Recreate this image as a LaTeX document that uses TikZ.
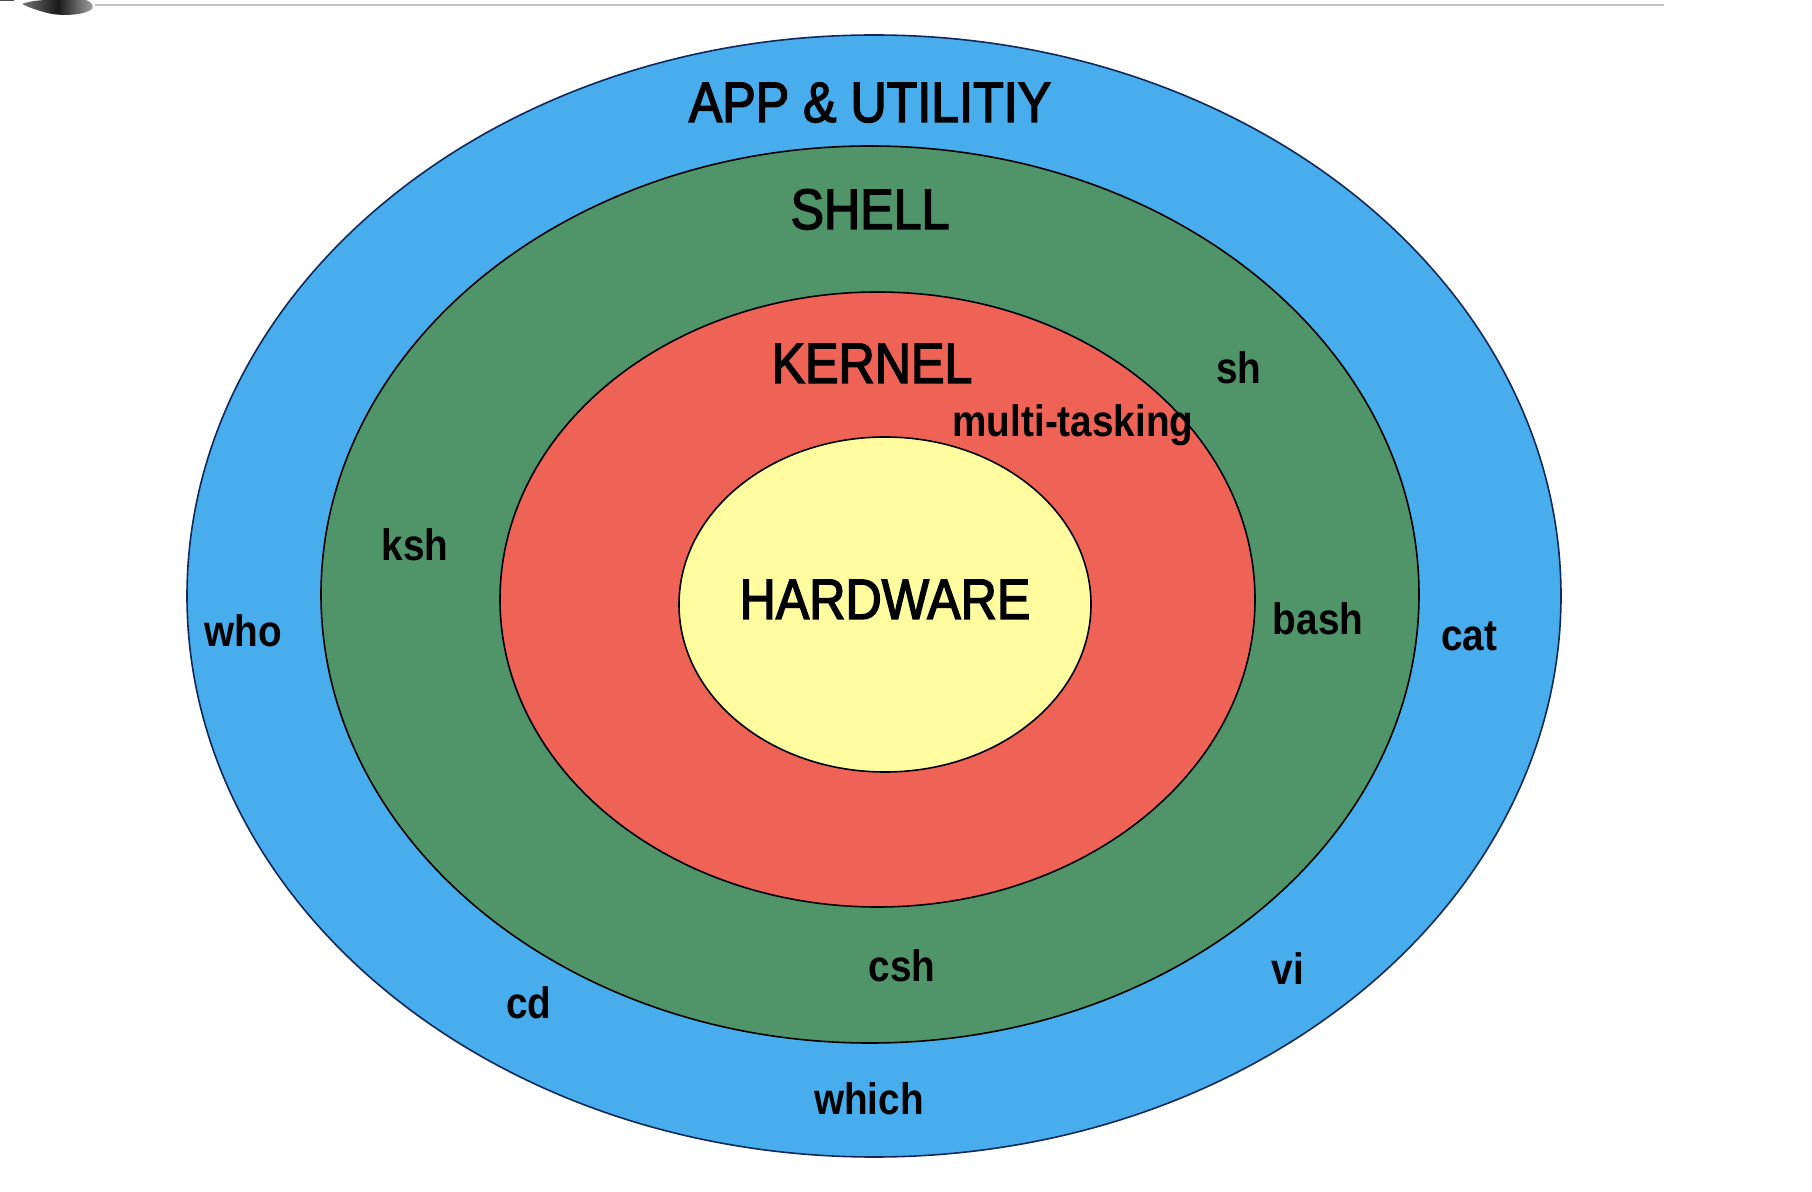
\documentclass[tikz,border=0pt]{standalone}
\usepackage{fontspec}
\setmainfont{Liberation Sans}[FakeStretch=0.88]
\newfontfamily\titlefont{Liberation Sans}[FakeStretch=0.88, FakeBold=2.5]
\usetikzlibrary{shapes.geometric}
\definecolor{appblue}{RGB}{71,173,236}
\definecolor{shellgreen}{RGB}{80,148,106}
\definecolor{kernelred}{RGB}{239,99,87}
\definecolor{hwyellow}{RGB}{255,253,160}
\definecolor{navyline}{RGB}{16,40,90}
\definecolor{ruleGray}{RGB}{195,195,195}
\begin{document}
\begin{tikzpicture}[x=0.5pt,y=-0.5pt,
  ring/.style={ellipse, inner sep=0pt, line width=0.8pt},
  bigtext/.style={anchor=base, inner sep=0pt, font=\titlefont\fontsize{28.5pt}{30pt}\selectfont},
  smalltext/.style={anchor=base, inner sep=0pt, font=\fontsize{22pt}{24pt}\selectfont\bfseries}]
\useasboundingbox (0,0) rectangle (1812,1192);
% top rule and clipped icon
\coordinate (ruleL) at (95,5);
\coordinate (ruleR) at (1664,5);
\draw[ruleGray, line width=1.4pt] (ruleL) -- (ruleR);
\shade[left color=black!55, right color=black!35, middle color=black!90]
  (22,4) .. controls (30,1) and (40,0) .. (50,0) -- (86,0)
  .. controls (92,2) and (94,6) .. (92,9)
  .. controls (85,15) and (65,16) .. (52,14)
  .. controls (38,11) and (28,7) .. (22,4) -- cycle;
\fill[black!70] (0,0) rectangle (14,1.5);
% rings
\node[ring, draw=navyline, fill=appblue, minimum width=687pt, minimum height=561pt] (app) at (874,596) {};
\node[ring, draw=black, fill=shellgreen, minimum width=549pt, minimum height=448.5pt] (shell) at (870,594.5) {};
\node[ring, draw=black, fill=kernelred, minimum width=377.5pt, minimum height=307.5pt] (kernel) at (877.5,599.5) {};
\node[ring, draw=black, fill=hwyellow, minimum width=206pt, minimum height=167.5pt] (hw) at (885,604.5) {};
% titles
\node[bigtext] (tapp) at (870,122) {APP \& UTILITIY};
\node[bigtext] (tshell) at (870,229) {SHELL};
\node[bigtext] (tkernel) at (872,383) {KERNEL};
\node[bigtext] (thw) at (885,619) {HARDWARE};
% labels
\node[smalltext] (mt) at (1073,437) {multi-tasking};
\node[smalltext] (sh) at (1239,384) {sh};
\node[smalltext] (ksh) at (415,561) {ksh};
\node[smalltext] (bash) at (1318,635) {bash};
\node[smalltext] (csh) at (902,981) {csh};
\node[smalltext] (who) at (243,647) {who};
\node[smalltext] (cat) at (1469,651) {cat};
\node[smalltext] (cd) at (529,1018) {cd};
\node[smalltext] (vi) at (1288,984) {vi};
\node[smalltext] (which) at (869,1114) {which};
\end{tikzpicture}
\end{document}
